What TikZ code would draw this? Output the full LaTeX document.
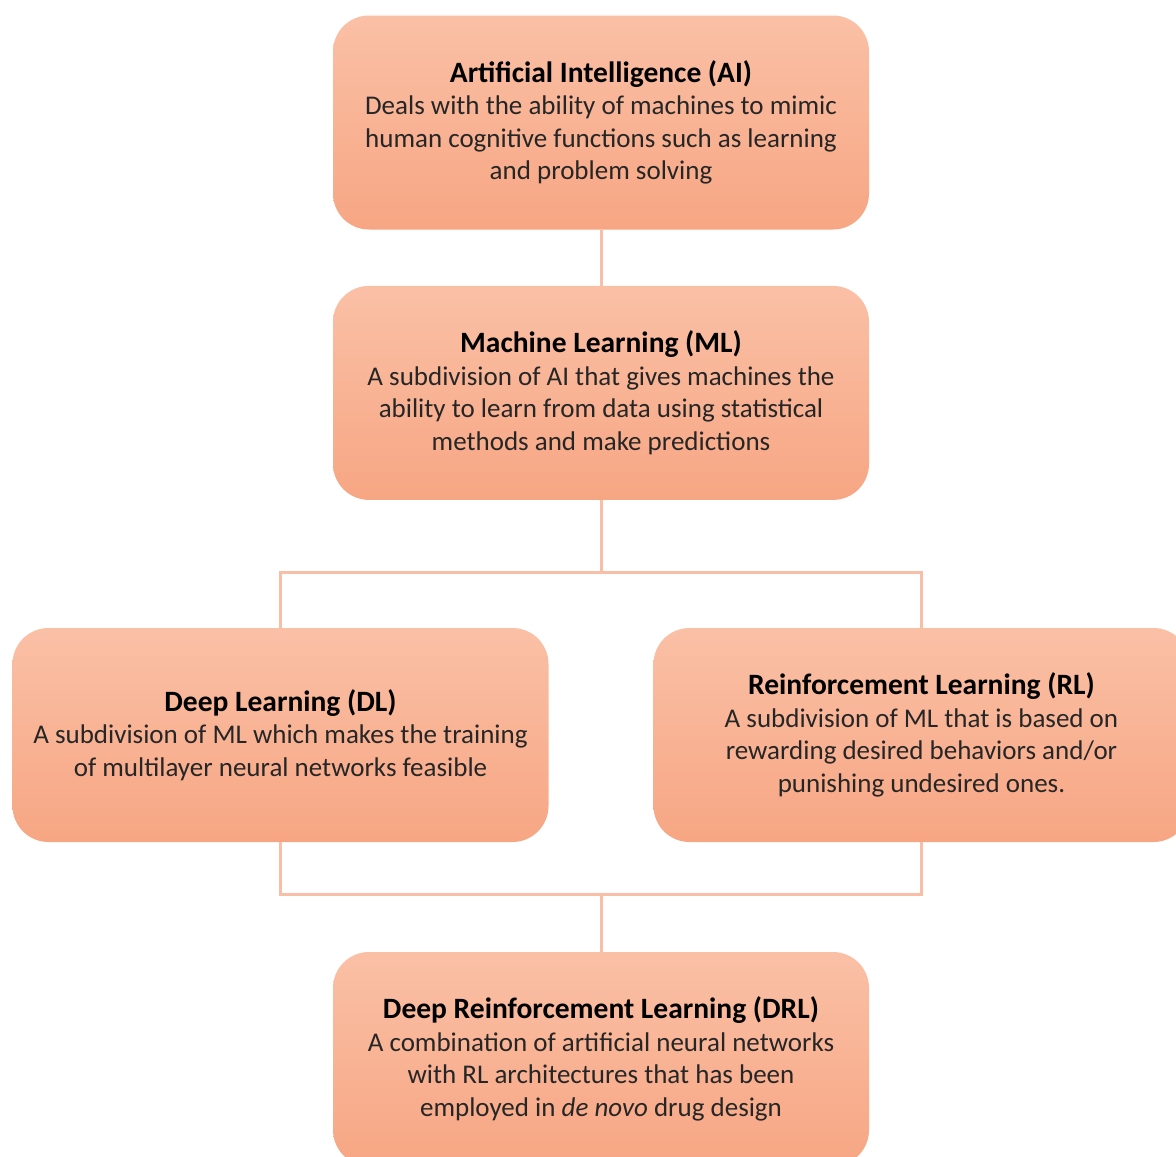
\documentclass[tikz,border=0pt]{standalone}
\usepackage{fontspec}
\setmainfont{Carlito}
\usepackage{tikz}
\usetikzlibrary{positioning}
\definecolor{boxtop}{HTML}{FAC0A6}
\definecolor{boxbot}{HTML}{F7A683}
\definecolor{linkcol}{HTML}{F8BFA6}
\definecolor{bodytxt}{HTML}{262626}
\newcommand{\boxtitle}[1]{{\fontsize{29.5}{34}\selectfont\bfseries\color{black}#1}}

\begin{document}
\begin{tikzpicture}[x=1pt, y=-1pt]
    \tikzstyle{block} = [rounded corners=36pt, top color=boxtop, bottom color=boxbot,
        minimum width=536pt, minimum height=214pt, text centered, align=center,
        font=\fontsize{27}{32.5}\selectfont, text=bodytxt]
    \tikzstyle{link} = [draw=linkcol, line width=3pt]
    \useasboundingbox (0,0) rectangle (1176,1157);
    \node [block] at (601,122.5) (ai) {\boxtitle{Artificial Intelligence (AI)}\\Deals with the ability of machines to mimic\\human cognitive functions such as learning\\and problem solving};
    \node [block, below=56pt of ai] (ml) {\boxtitle{Machine Learning (ML)}\\A subdivision of AI that gives machines the\\ability to learn from data using statistical\\methods and make predictions};
    \node [block] at (280.5,735) (dl) {\boxtitle{Deep Learning (DL)}\\A subdivision of ML which makes the training\\of multilayer neural networks feasible};
    \node [block] at (921.5,735) (rl) {\boxtitle{Reinforcement Learning (RL)}\\A subdivision of ML that is based on\\rewarding desired behaviors and/or\\punishing undesired ones.};
    \node [block] at (601,1059) (drl) {\boxtitle{Deep Reinforcement Learning (DRL)}\\A combination of artificial neural networks\\with RL architectures that has been\\employed in \textit{de novo} drug design};
    \coordinate (split) at (601,572);
    \coordinate (join) at (601,894);
    \draw[link] (ai) -- (ml);
    \draw[link] (ml) -- (split);
    \draw[link] (dl.north) |- (split) -| (rl.north);
    \draw[link] (dl.south) |- (join) -| (rl.south);
    \draw[link] (join) -- (drl);
\end{tikzpicture}
\end{document}
